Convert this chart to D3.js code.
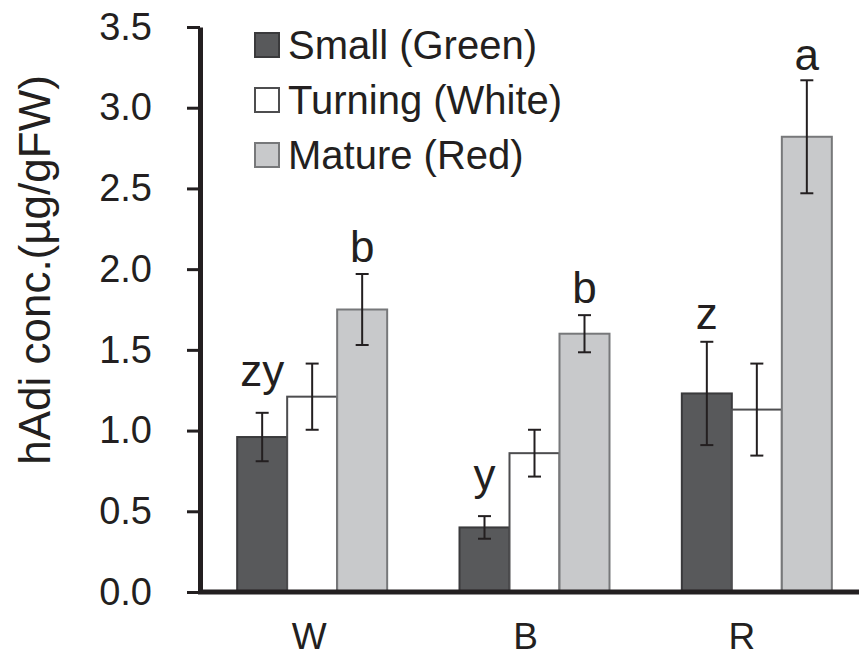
<!DOCTYPE html>
<html>
<head>
<meta charset="utf-8">
<script src="https://cdn.jsdelivr.net/npm/d3@7"></script>
<style>
  body { margin: 0; background: #fff; }
  text { font-family: "Liberation Sans", Arial, sans-serif; fill: #231f20; }
</style>
</head>
<body>
<div id="chart"></div>
<script>
// Data
const groups = ['W', 'B', 'R'];
const seriesNames = ['Small (Green)', 'Turning (White)', 'Mature (Red)'];
const smallVals = [0.96, 0.40, 1.23];
const smallErr = [0.15, 0.07, 0.32];
const turningVals = [1.21, 0.86, 1.13];
const turningErr = [0.205, 0.145, 0.285];
const matureVals = [1.75, 1.60, 2.82];
const matureErr = [0.22, 0.115, 0.35];
// significance letters and the value where each sits
const smallLetters = ['zy', 'y', 'z'];
const smallLetterAt = [1.276, 0.632, 1.63];
const matureLetters = ['b', 'b', 'a'];
const matureLetterAt = [2.045, 1.79, 3.234];
const yTicks = [0, 0.5, 1.0, 1.5, 2.0, 2.5, 3.0, 3.5];

const width = 859;
const height = 658;

const fills = ['#58595b', '#ffffff', '#c8c9cb'];
const strokes = ['#3a3a3c', '#4d4d4f', '#77787a'];

const svg = d3.select('#chart')
  .append('svg')
  .attr('width', width)
  .attr('height', height);

svg.append('rect').attr('width', width).attr('height', height).attr('fill', '#fff');

// Scales
const yScale = d3.scaleLinear().domain([0, 3.5]).range([592, 27]);
const x0 = d3.scaleBand().domain(groups).range([201, 868]);
const groupWidth = 150;
const x1 = d3.scaleBand().domain(seriesNames).range([0, groupWidth]);
const groupLeft = g => x0(g) + (x0.bandwidth() - groupWidth) / 2;

// Build rows for bars
const valueSets = [smallVals, turningVals, matureVals];
const errSets = [smallErr, turningErr, matureErr];
const rows = [];
seriesNames.forEach((s, si) => {
  groups.forEach((g, gi) => {
    rows.push({ series: s, si: si, group: g, value: valueSets[si][gi], err: errSets[si][gi] });
  });
});

// Bars
svg.selectAll('.bar')
  .data(rows)
  .enter()
  .append('rect')
  .attr('class', 'bar')
  .attr('x', d => groupLeft(d.group) + x1(d.series))
  .attr('y', d => yScale(d.value))
  .attr('width', x1.bandwidth())
  .attr('height', d => yScale(0) - yScale(d.value))
  .attr('fill', d => fills[d.si])
  .attr('stroke', d => strokes[d.si])
  .attr('stroke-width', 2);

// Error bars
const eb = svg.selectAll('.err')
  .data(rows)
  .enter()
  .append('g')
  .attr('class', 'err')
  .attr('transform', d => `translate(${groupLeft(d.group) + x1(d.series) + x1.bandwidth() / 2},0)`);

eb.append('line')
  .attr('y1', d => yScale(d.value + d.err))
  .attr('y2', d => yScale(d.value - d.err))
  .attr('stroke', '#231f20')
  .attr('stroke-width', 2);

eb.selectAll('.cap')
  .data(d => [d.value + d.err, d.value - d.err])
  .enter()
  .append('line')
  .attr('x1', -6.5)
  .attr('x2', 6.5)
  .attr('y1', v => yScale(v))
  .attr('y2', v => yScale(v))
  .attr('stroke', '#231f20')
  .attr('stroke-width', 2);

// Significance letters
groups.forEach((g, gi) => {
  svg.append('text')
    .attr('x', groupLeft(g) + x1(seriesNames[0]) + x1.bandwidth() / 2)
    .attr('y', yScale(smallLetterAt[gi]))
    .attr('text-anchor', 'middle')
    .style('font-size', '44px')
    .text(smallLetters[gi]);
  svg.append('text')
    .attr('x', groupLeft(g) + x1(seriesNames[2]) + x1.bandwidth() / 2)
    .attr('y', yScale(matureLetterAt[gi]))
    .attr('text-anchor', 'middle')
    .style('font-size', '44px')
    .text(matureLetters[gi]);
});

// Y axis
const yAxis = d3.axisLeft(yScale)
  .tickValues(yTicks)
  .tickFormat(d3.format('.1f'))
  .tickSize(13)
  .tickSizeOuter(0)
  .tickPadding(35);

const yg = svg.append('g')
  .attr('transform', 'translate(200,0)')
  .call(yAxis);
yg.select('.domain').attr('stroke', '#231f20').attr('stroke-width', 5);
yg.selectAll('.tick line').attr('stroke', '#231f20').attr('stroke-width', 3);
yg.selectAll('.tick text')
  .style('font-size', '38px')
  .style('font-family', '"Liberation Sans", Arial, sans-serif')
  .attr('fill', '#231f20');

// X axis line
svg.append('line')
  .attr('x1', 198)
  .attr('x2', width)
  .attr('y1', yScale(0))
  .attr('y2', yScale(0))
  .attr('stroke', '#231f20')
  .attr('stroke-width', 5);

// X labels
svg.selectAll('.xlabel')
  .data(groups)
  .enter()
  .append('text')
  .attr('class', 'xlabel')
  .attr('x', (g, i) => x0(g) + x0.bandwidth() / 2 - 3 - i * 6)
  .attr('y', 649)
  .attr('text-anchor', 'middle')
  .style('font-size', '37px')
  .text(g => g);

// Y axis title
svg.append('text')
  .attr('transform', 'translate(50,270) rotate(-90)')
  .attr('text-anchor', 'middle')
  .style('font-size', '44px')
  .text('hAdi conc.(µg/gFW)');

// Legend
const legend = svg.append('g')
  .attr('transform', 'translate(255,33)');

seriesNames.forEach((s, i) => {
  legend.append('rect')
    .attr('x', 0)
    .attr('y', i * 55)
    .attr('width', 24)
    .attr('height', 24)
    .attr('fill', fills[i])
    .attr('stroke', strokes[i])
    .attr('stroke-width', 2);
  legend.append('text')
    .attr('x', 33)
    .attr('y', i * 55 + 26)
    .style('font-size', '40px')
    .text(s);
});
</script>
</body>
</html>
